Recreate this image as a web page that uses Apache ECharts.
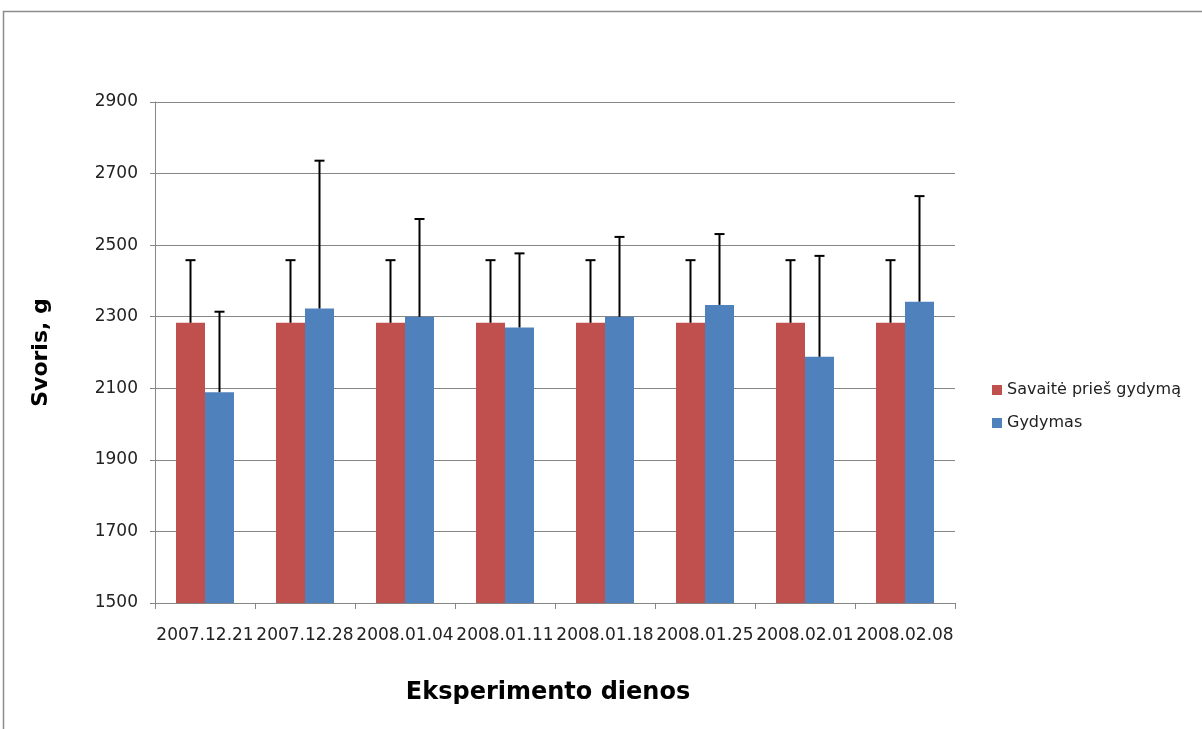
<!DOCTYPE html>
<html>
<head>
<meta charset="utf-8">
<script src="https://cdn.jsdelivr.net/npm/echarts@6/dist/echarts.min.js"></script>
<style>
html,body{margin:0;padding:0;background:#fff;}
#c{width:1202px;height:729px;}
</style>
</head>
<body>
<div id="c"></div>
<script>
const categories = ['2007.12.21','2007.12.28','2008.01.04','2008.01.11','2008.01.18','2008.01.25','2008.02.01','2008.02.08'];
const beforeValues = [2283, 2283, 2283, 2283, 2283, 2283, 2283, 2283];
const beforeErrors = [175, 175, 175, 175, 175, 175, 175, 175];
const treatValues = [2089, 2323, 2300, 2270, 2300, 2333, 2188, 2342];
const treatErrors = [225, 413, 273, 207, 223, 198, 282, 295];
const yTicks = {min: 1500, max: 2900, interval: 200};

const chart = echarts.init(document.getElementById('c'));
const font = 'DejaVu Sans';

function errSeries(values, errors, side) {
  return {
    type: 'custom',
    silent: true,
    z: 10,
    data: values.map((v, i) => [i, v, v + errors[i]]),
    renderItem: function (params, api) {
      const idx = api.value(0);
      const band = api.size([1, 0])[0];
      const off = side * band * 0.58 / 4;
      const p0 = api.coord([idx, api.value(1)]);
      const p1 = api.coord([idx, api.value(2)]);
      const x = p0[0] + off;
      const cap = 5;
      const style = {stroke: '#000', lineWidth: 2};
      return {
        type: 'group',
        children: [
          {type: 'line', shape: {x1: x, y1: p0[1], x2: x, y2: p1[1]}, style: style},
          {type: 'line', shape: {x1: x - cap, y1: p1[1], x2: x + cap, y2: p1[1]}, style: style}
        ]
      };
    }
  };
}

chart.setOption({
  backgroundColor: '#fff',
  animation: false,
  graphic: [{
    type: 'rect',
    shape: {x: 3.5, y: 11.5, width: 1300, height: 800},
    style: {fill: 'none', stroke: '#8c8c8c', lineWidth: 1.5},
    silent: true
  }],
  grid: {left: 155, right: 247, top: 102, bottom: 126, containLabel: false},
  legend: {
    orient: 'vertical',
    left: 987,
    top: 377,
    itemGap: 17,
    itemWidth: 10,
    itemHeight: 10,
    icon: 'rect',
    textStyle: {fontFamily: font, fontSize: 16, color: '#222'},
    data: ['Savaitė prieš gydymą', 'Gydymas']
  },
  xAxis: {
    type: 'category',
    data: categories,
    name: 'Eksperimento dienos',
    nameLocation: 'middle',
    nameGap: 78,
    nameTextStyle: {fontFamily: font, fontWeight: 'bold', fontSize: 24, color: '#000', padding: [0, 14, 0, 0]},
    axisLine: {lineStyle: {color: '#868686', width: 1}},
    axisTick: {show: true, length: 6, lineStyle: {color: '#868686'}},
    axisLabel: {fontFamily: font, fontSize: 17, color: '#222', margin: 24, interval: 0}
  },
  yAxis: {
    type: 'value',
    min: yTicks.min,
    max: yTicks.max,
    interval: yTicks.interval,
    name: 'Svoris, g',
    nameLocation: 'middle',
    nameGap: 103,
    nameRotate: 90,
    nameTextStyle: {fontFamily: font, fontWeight: 'bold', fontSize: 22, color: '#000'},
    axisLine: {show: true, lineStyle: {color: '#868686', width: 1}},
    axisTick: {show: true, length: 5, lineStyle: {color: '#868686'}},
    axisLabel: {fontFamily: font, fontSize: 17, color: '#222', margin: 17, formatter: v => String(v)},
    splitLine: {lineStyle: {color: '#868686', width: 1}}
  },
  series: [
    {
      name: 'Savaitė prieš gydymą',
      type: 'bar',
      data: beforeValues,
      barGap: '0%',
      barCategoryGap: '42%',
      itemStyle: {color: '#C0504D'}
    },
    {
      name: 'Gydymas',
      type: 'bar',
      data: treatValues,
      barGap: '0%',
      barCategoryGap: '42%',
      itemStyle: {color: '#4F81BD'}
    },
    errSeries(beforeValues, beforeErrors, -1),
    errSeries(treatValues, treatErrors, 1)
  ]
});
</script>
</body>
</html>
